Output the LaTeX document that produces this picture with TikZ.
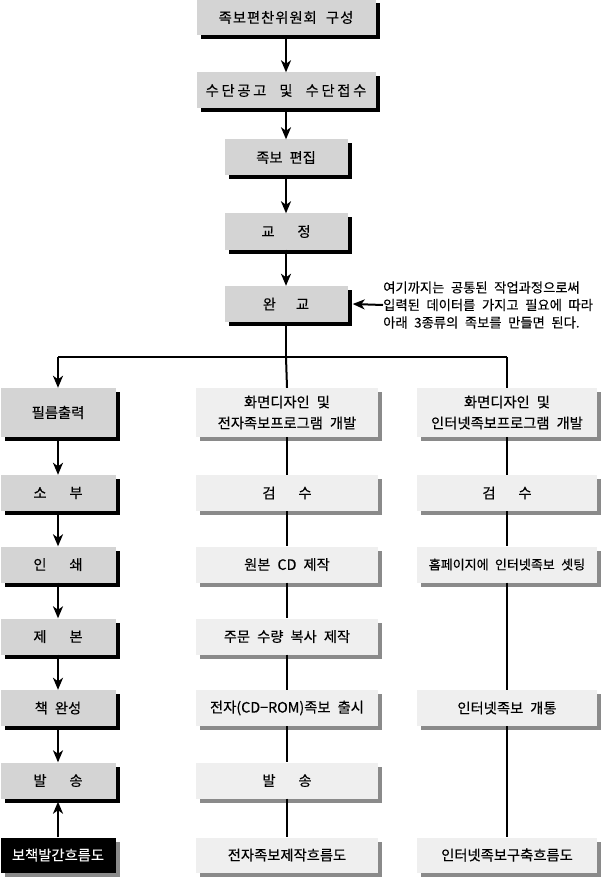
\documentclass[tikz,border=0pt]{standalone}
\usepackage{fontspec}
\setmainfont[WordSpace=2.2,FakeBold=0.3]{Noto Sans CJK KR}
\newfontfamily\krA[WordSpace=2.2,LetterSpace=7,FakeBold=0.3]{Noto Sans CJK KR}
\newfontfamily\krB[WordSpace=2.2,LetterSpace=19,FakeBold=0.3]{Noto Sans CJK KR}
\usetikzlibrary{arrows.meta,shadows}
\definecolor{boxgray}{HTML}{D4D4D4}
\definecolor{boxlight}{HTML}{EFEFEF}
\definecolor{shadgray}{HTML}{8A8A8A}
\begin{document}
\begin{tikzpicture}[x=1pt,y=-1pt,
  every node/.style={font=\fontsize{14.3}{21}\selectfont, inner sep=0pt, align=center},
  darkbox/.style={fill=boxgray, minimum height=36pt,
    drop shadow={shadow xshift=4pt, shadow yshift=-4pt, fill=black, opacity=1}},
  lightbox/.style={fill=boxlight, minimum height=36pt, minimum width=182pt,
    drop shadow={shadow xshift=4pt, shadow yshift=-4pt, fill=shadgray, opacity=1}},
  blackbox/.style={fill=black, text=white, minimum height=35pt, minimum width=115pt,
    drop shadow={shadow xshift=4pt, shadow yshift=-4pt, fill=shadgray, opacity=1}},
  conn/.style={line width=2pt},
  arr/.style={line width=2pt, -{Stealth[length=12pt, width=10pt, inset=3.5pt]}}
]
\useasboundingbox (0,0) rectangle (613,877);

% top column
\node[darkbox, minimum width=179pt] (t1) at (286,17.5) {\krA 족보편찬위원회 구성};
\node[darkbox, minimum width=179pt] (t2) at (286,90.5) {\krB 수단공고 및 수단접수};
\node[darkbox, minimum width=123pt] (t3) at (286,157.5) {족보 편집};
\node[darkbox, minimum width=123pt] (t4) at (286,231.5) {교\hspace{1.6em}정};
\node[darkbox, minimum width=123pt] (t5) at (286,304) {완\hspace{1.4em}교};

\node[anchor=west, align=left, font=\fontsize{13.3}{17.5}\selectfont] (ann) at (383,305)
  {여기까지는 공통된 작업과정으로써\\입력된 데이터를 가지고 필요에 따라\\아래 3종류의 족보를 만들면 된다.};

\draw[arr] (t1.south) -- (t2.north);
\draw[arr] (t2.south) -- (t3.north);
\draw[arr] (t3.south) -- (t4.north);
\draw[arr] (t4.south) -- (t5.north);
\draw[arr] (ann.west) -- ([xshift=5pt]t5.east);

% branch
\coordinate (bm) at (286,357);
\coordinate (bl) at (58,357);
\coordinate (br) at (507,357);

% left column
\node[darkbox, minimum width=115pt, minimum height=49pt] (l1) at (58,412.5) {필름출력};
\node[darkbox, minimum width=115pt] (l2) at (58,493) {소\hspace{1.6em}부};
\node[darkbox, minimum width=115pt] (l3) at (58,564.5) {인\hspace{1.6em}쇄};
\node[darkbox, minimum width=115pt] (l4) at (58,636.5) {제\hspace{1.6em}본};
\node[darkbox, minimum width=115pt] (l5) at (58,708) {책 완성};
\node[darkbox, minimum width=115pt] (l6) at (58,780.5) {발\hspace{1.6em}송};
\node[blackbox] (l7) at (58,855) {보책발간흐름도};

% middle column
\node[lightbox, minimum height=49pt] (m1) at (287,412.5) {화면디자인 및\\전자족보프로그램 개발};
\node[lightbox] (m2) at (287,493) {검\hspace{1.6em}수};
\node[lightbox] (m3) at (287,564.5) {원본 CD 제작};
\node[lightbox] (m4) at (287,636.5) {주문 수량 복사 제작};
\node[lightbox] (m5) at (287,708) {전자(CD−ROM)족보 출시};
\node[lightbox] (m6) at (287,780.5) {발\hspace{1.6em}송};
\node[lightbox, minimum height=35pt] (m7) at (287,855) {전자족보제작흐름도};

% right column
\node[lightbox, minimum width=180pt, minimum height=49pt] (r1) at (507,412.5) {화면디자인 및\\인터넷족보프로그램 개발};
\node[lightbox, minimum width=180pt] (r2) at (507,493) {검\hspace{1.6em}수};
\node[lightbox, minimum width=180pt, font=\fontsize{13}{20}\selectfont] (r3) at (507,564.5) {홈페이지에 인터넷족보 셋팅};
\node[lightbox, minimum width=180pt] (r5) at (507,708) {인터넷족보 개통};
\node[lightbox, minimum width=180pt, minimum height=35pt] (r7) at (507,855) {인터넷족보구축흐름도};

% connectors
\draw[conn] (t5.south) -- (bm);
\draw[conn, line width=2.4pt] (bl) -- (br);
\draw[arr] (bl) -- (l1.north);
\draw[conn] (bm) -- (m1.north);
\draw[conn] (br) -- (r1.north);

\draw[arr] (l1.south) -- (l2.north);
\draw[arr] (l2.south) -- (l3.north);
\draw[arr] (l3.south) -- (l4.north);
\draw[arr] (l4.south) -- (l5.north);
\draw[arr] (l5.south) -- (l6.north);
\draw[arr] (l7.north) -- ([yshift=-3pt]l6.south);

\draw[conn] (m1.south) -- (m2.north);
\draw[conn] (m2.south) -- (m3.north);
\draw[conn] (m3.south) -- (m4.north);
\draw[conn] (m4.south) -- (m5.north);
\draw[conn] (m5.south) -- (m6.north);
\draw[conn] (m6.south) -- (m7.north);

\draw[conn] (r1.south) -- (r2.north);
\draw[conn] (r2.south) -- (r3.north);
\draw[conn] (r3.south) -- (r5.north);
\draw[conn] (r5.south) -- (r7.north);
\end{tikzpicture}
\end{document}
